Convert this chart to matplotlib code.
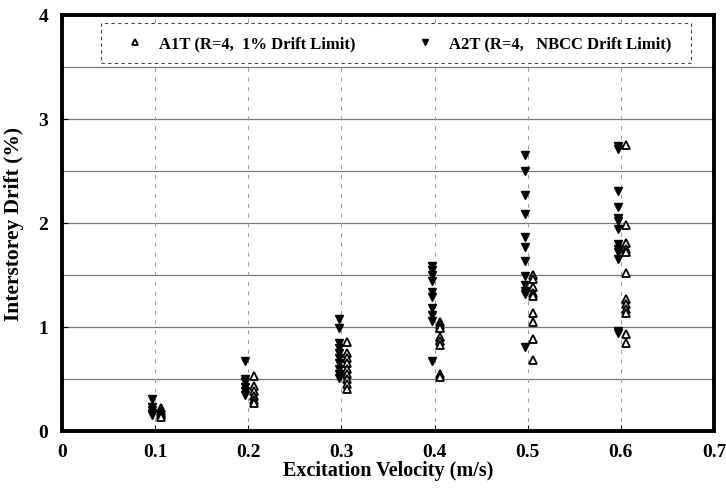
import numpy as np
import matplotlib
matplotlib.use("Agg")
import matplotlib.pyplot as plt
from matplotlib.patches import Rectangle

# excitation velocities (m/s)
velocities = [0.1, 0.2, 0.3, 0.4, 0.5, 0.6]

# A1T (R=4, 1% drift limit) - interstorey drift (%)
a1t_drift = [
    [0.22, 0.19, 0.17, 0.15, 0.13],
    [0.53, 0.43, 0.38, 0.34, 0.30, 0.27],
    [0.86, 0.75, 0.70, 0.65, 0.60, 0.55, 0.50, 0.45, 0.40],
    [1.05, 1.02, 0.99, 0.90, 0.87, 0.83, 0.55, 0.52],
    [1.50, 1.46, 1.38, 1.33, 1.30, 1.13, 1.05, 0.88, 0.68],
    [2.75, 1.98, 1.81, 1.75, 1.72, 1.52, 1.27, 1.22, 1.17, 1.13, 0.93, 0.85],
]

# A2T (R=4, NBCC drift limit) - interstorey drift (%)
a2t_drift = [
    [0.31, 0.23, 0.20, 0.17, 0.15],
    [0.67, 0.50, 0.47, 0.42, 0.38, 0.35],
    [1.08, 0.99, 0.85, 0.80, 0.75, 0.70, 0.65, 0.60, 0.55, 0.51],
    [1.59, 1.55, 1.50, 1.44, 1.34, 1.29, 1.18, 1.12, 1.06, 0.67],
    [2.65, 2.50, 2.27, 2.09, 1.87, 1.77, 1.63, 1.49, 1.40, 1.35, 1.32, 0.81],
    [2.74, 2.71, 2.31, 2.15, 2.05, 2.02, 1.94, 1.80, 1.75, 1.72, 1.65, 0.96, 0.94],
]

x_ticks = [0, 0.1, 0.2, 0.3, 0.4, 0.5, 0.6, 0.7]
x_labels = ["0", "0.1", "0.2", "0.3", "0.4", "0.5", "0.6", "0.7"]
y_ticks = [0, 1, 2, 3, 4]

plt.rcParams["font.family"] = ["Liberation Serif", "DejaVu Serif"]
plt.rcParams["font.weight"] = "bold"

fig = plt.figure(figsize=(7.26, 4.89), dpi=100)
ax = fig.add_axes([0.0854, 0.1166, 0.8981, 0.8507])

x1 = np.concatenate([[v + 0.006] * len(d) for v, d in zip(velocities, a1t_drift)])
y1 = np.concatenate(a1t_drift)
x2 = np.concatenate([[v - 0.003] * len(d) for v, d in zip(velocities, a2t_drift)])
y2 = np.concatenate(a2t_drift)

ax.plot(x1, y1, linestyle="none", marker="^", markersize=5.5,
        markerfacecolor="white", markeredgecolor="black", markeredgewidth=1.3,
        label="A1T (R=4,  1% Drift Limit)", zorder=4)
ax.plot(x2, y2, linestyle="none", marker="v", markersize=5.5,
        color="black", label="A2T (R=4,   NBCC Drift Limit)", zorder=3)

ax.set_xlim(0, 0.7)
ax.set_ylim(0, 4)
ax.set_xticks(x_ticks)
ax.set_xticklabels(x_labels)
ax.set_yticks(y_ticks)

# horizontal grid every 0.5, faint dashed verticals
for yv in np.arange(0.5, 4, 0.5):
    ax.axhline(yv, color="#777777", linewidth=0.9, zorder=1)
for xv in x_ticks[1:-1]:
    ax.axvline(xv, color="#999999", linewidth=0.7, linestyle=(0, (4, 6)), zorder=1)

ax.tick_params(axis="both", which="major", direction="in", length=4,
               labelsize=14)
ax.tick_params(axis="x", pad=9)
ax.tick_params(axis="y", pad=10)
for lbl in ax.get_xticklabels() + ax.get_yticklabels():
    lbl.set_fontweight("bold")

for sp in ax.spines.values():
    sp.set_linewidth(2.8)

ax.set_xlabel("Excitation Velocity (m/s)", fontsize=14.5, fontweight="bold", labelpad=0)
ax.set_ylabel("Interstorey Drift (%)", fontsize=15.5, fontweight="bold", labelpad=10)

# legend: dashed box drawn separately, entries placed inside it
box = Rectangle((0.06, 0.885), 0.905, 0.096, transform=ax.transAxes,
                facecolor="white", edgecolor="#444444", linewidth=0.8,
                linestyle=(0, (3, 3)), zorder=5)
ax.add_patch(box)
leg = ax.legend(loc="center left", bbox_to_anchor=(0.098, 0.931), ncol=2,
                frameon=False, borderpad=0, borderaxespad=0,
                handlelength=1.1, handletextpad=0.9, columnspacing=3.6,
                markerscale=0.85, prop={"weight": "bold", "size": 12})
leg.set_zorder(6)

fig.savefig("out.png", dpi=100)
